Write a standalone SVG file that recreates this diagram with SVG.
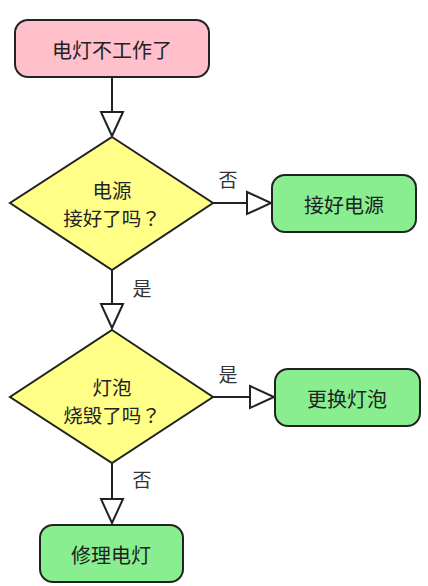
<svg xmlns="http://www.w3.org/2000/svg" width="428" height="586" viewBox="0 0 428 586">
<defs>
<style>
.box{stroke:#222;stroke-width:2}
.start{fill:#FFC0CB}
.act{fill:#88EE90}
.dec{fill:#FFFF88;stroke:#222;stroke-width:2;stroke-linejoin:miter}
.t{font-family:"Noto Sans CJK SC","Noto Sans",sans-serif;font-size:20px;fill:#222;text-anchor:middle;dominant-baseline:central}
.d{font-size:19.5px}
.q{font-family:"Noto Sans CJK TC","Noto Sans CJK SC",sans-serif}
.lbl{font-family:"Noto Sans CJK SC","Noto Sans",sans-serif;font-size:19px;fill:#333;text-anchor:middle;dominant-baseline:central}
.edge{stroke:#222;stroke-width:2;fill:none}
</style>
<marker id="arr" markerUnits="userSpaceOnUse" markerWidth="28" markerHeight="28" viewBox="-2 -2 28 26" refX="24" refY="11" orient="auto" overflow="visible">
<path d="M0,0 L24,11 L0,22 Z" fill="#fff" stroke="#222" stroke-width="2" stroke-linejoin="miter"/>
</marker>
</defs>
<rect width="428" height="586" fill="#fff"/>
<g id="connectors">
<path class="edge" d="M112,77 V136" marker-end="url(#arr)"/>
<path class="edge" d="M213,203 H271" marker-end="url(#arr)"/>
<path class="edge" d="M112,270 V328" marker-end="url(#arr)"/>
<path class="edge" d="M213,397 H274" marker-end="url(#arr)"/>
<path class="edge" d="M112,463 V523" marker-end="url(#arr)"/>
<text class="lbl" x="228" y="178">否</text>
<text class="lbl" x="142" y="287">是</text>
<text class="lbl" x="228" y="373">是</text>
<text class="lbl" x="142" y="478">否</text>
</g>
<g id="start">
<rect class="box start" x="15" y="20" width="194" height="57" rx="13"/>
<text class="t" x="112" y="49">电灯不工作了</text>
</g>
<g id="dec1">
<polygon class="dec" points="112,137 213,203 112,270 10,203"/>
<text class="t d" x="112" y="189">电源</text>
<text class="t d" x="112" y="217">接好了吗<tspan class="q">？</tspan></text>
</g>
<g id="fix-power">
<rect class="box act" x="272" y="175" width="144" height="57" rx="13"/>
<text class="t" x="344" y="204">接好电源</text>
</g>
<g id="dec2">
<polygon class="dec" points="112,330 213,397 112,463 10,397"/>
<text class="t d" x="112" y="386">灯泡</text>
<text class="t d" x="112" y="414">烧毁了吗<tspan class="q">？</tspan></text>
</g>
<g id="replace-bulb">
<rect class="box act" x="275" y="369" width="145" height="57" rx="13"/>
<text class="t" x="347" y="398">更换灯泡</text>
</g>
<g id="repair">
<rect class="box act" x="40" y="525" width="143" height="57" rx="13"/>
<text class="t" x="111" y="554">修理电灯</text>
</g>
</svg>
